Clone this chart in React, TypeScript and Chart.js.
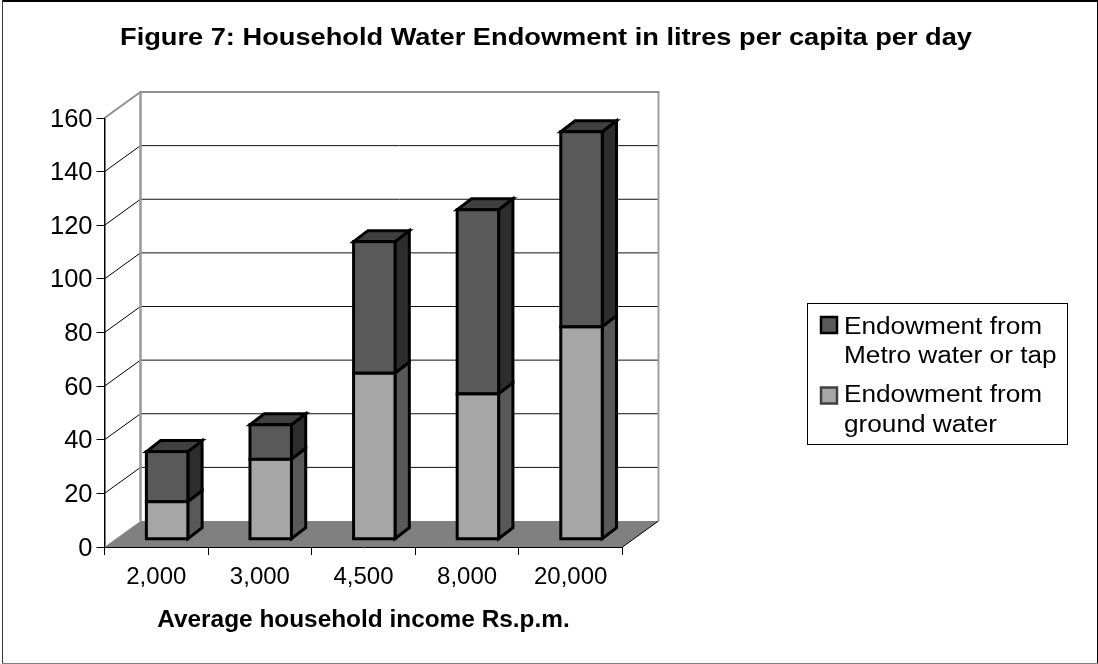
import React, { useEffect, useRef } from "react";
import { Chart, registerables } from "chart.js";

Chart.register(...registerables);

const categories = ["2,000", "3,000", "4,500", "8,000", "20,000"];
const groundWater = [14, 29.8, 61.9, 54.2, 79.2];
const metroWater = [18.7, 12.9, 49.1, 68.7, 72.8];
const yTicks = [0, 20, 40, 60, 80, 100, 120, 140, 160];
const metroLabel = ["Endowment from", "Metro water or tap"];
const groundLabel = ["Endowment from", "ground water"];
const titleText = "Figure 7: Household Water Endowment in litres per capita per day";
const xTitleText = "Average household income Rs.p.m.";

const FONT = '"Liberation Sans", Arial, sans-serif';
const FLOOR = "#808080";
const WALL = "#8f8f8f";
const DEPTH_X = 36;
const DEPTH_Y = 26;
const BAR_SHIFT_X = 10.8;
const BAR_SHIFT_Y = 7.75;
const SIDE_X = 14.3;
const SIDE_Y = 11;
const BAR_LINE = 3;
const LEGEND_STRETCH = 1.115;

const faces = [
  { front: "#a6a6a6", side: "#595959", top: "#6a6a6a" },
  { front: "#595959", side: "#2d2d2d", top: "#404040" },
];

function poly(ctx: CanvasRenderingContext2D, pts: number[][], fill: string | null, stroke: string | null, lw = 1) {
  ctx.beginPath();
  pts.forEach((p, i) => (i ? ctx.lineTo(p[0], p[1]) : ctx.moveTo(p[0], p[1])));
  ctx.closePath();
  if (fill) {
    ctx.fillStyle = fill;
    ctx.fill();
  }
  if (stroke) {
    ctx.strokeStyle = stroke;
    ctx.lineWidth = lw;
    ctx.lineJoin = "miter";
    ctx.stroke();
  }
}

function line(ctx: CanvasRenderingContext2D, x1: number, y1: number, x2: number, y2: number, color: string, lw: number) {
  ctx.beginPath();
  ctx.moveTo(x1, y1);
  ctx.lineTo(x2, y2);
  ctx.strokeStyle = color;
  ctx.lineWidth = lw;
  ctx.stroke();
}

function stretchedText(ctx: CanvasRenderingContext2D, text: string, x: number, y: number, sx: number) {
  ctx.save();
  ctx.translate(x, y);
  ctx.scale(sx, 1);
  ctx.textAlign = "left";
  ctx.textBaseline = "alphabetic";
  ctx.fillText(text, 0, 0);
  ctx.restore();
}

const chrome = {
  id: "chrome",
  beforeDraw(chart: any) {
    const { ctx, width, height } = chart;
    const items = chart.scales.y.getLabelItems();
    if (!items._shifted) {
      items.forEach((it: any) => {
        it.options.translation[1] += 1.5;
      });
      items._shifted = true;
    }
    ctx.save();
    ctx.fillStyle = "#ffffff";
    ctx.fillRect(0, 0, width, height);
    line(ctx, 2, 1, width, 1, "#000000", 2);
    line(ctx, 2.5, 0, 2.5, height, "#3a3a3a", 1);
    line(ctx, width - 0.5, 0, width - 0.5, height, "#000000", 1);
    line(ctx, 2, height - 0.5, width, height - 0.5, "#808080", 1);
    ctx.fillStyle = "#000000";
    ctx.font = `bold 24px ${FONT}`;
    const sx = 852 / ctx.measureText(titleText).width;
    stretchedText(ctx, titleText, 120, 45, sx);
    ctx.restore();
  },
  beforeDatasetsDraw(chart: any) {
    const { ctx, chartArea: a, scales } = chart;
    const y = scales.y;
    ctx.save();
    const bx = a.left + DEPTH_X;
    const tx = a.right + DEPTH_X;
    const ty = a.top - DEPTH_Y;
    const by = a.bottom - DEPTH_Y;
    poly(ctx, [[a.left, a.bottom], [a.right, a.bottom], [tx, by], [bx, by]], FLOOR, null);
    yTicks.forEach((t) => {
      if (t === 0 || t === 160) return;
      const py = y.getPixelForValue(t);
      line(ctx, a.left, py, bx, py - DEPTH_Y, "#000000", 1);
      line(ctx, bx, py - DEPTH_Y, tx, py - DEPTH_Y, "#111111", 1);
    });
    line(ctx, bx, ty, bx, by, "#999999", 2.5);
    line(ctx, tx, ty, tx, by, "#a0a0a0", 2);
    line(ctx, bx - 1, ty, tx + 1, ty, WALL, 2);
    line(ctx, a.left, a.top, bx, ty, WALL, 2);
    line(ctx, a.right, a.bottom, tx, by, "#000000", 1);
    ctx.restore();
  },
  beforeDatasetDraw(chart: any, args: any) {
    const { ctx } = chart;
    const meta = chart.getDatasetMeta(args.index);
    const colors = faces[args.index];
    ctx.save();
    ctx.translate(BAR_SHIFT_X, -BAR_SHIFT_Y);
    meta.data.forEach((bar: any) => {
      const r = bar.getProps(["x", "y", "base", "width"], true);
      const right = r.x + r.width / 2;
      const left = r.x - r.width / 2;
      poly(ctx, [[right, r.y], [right + SIDE_X, r.y - SIDE_Y], [right + SIDE_X, r.base - SIDE_Y], [right, r.base]], colors.side, "#000000", BAR_LINE);
      if (args.index === 1) {
        poly(ctx, [[left, r.y], [left + SIDE_X, r.y - SIDE_Y], [right + SIDE_X, r.y - SIDE_Y], [right, r.y]], colors.top, "#000000", BAR_LINE);
      }
    });
  },
  afterDatasetDraw(chart: any, args: any) {
    const { ctx } = chart;
    chart.getDatasetMeta(args.index).data.forEach((bar: any) => {
      const r = bar.getProps(["x", "y", "base", "width"], true);
      ctx.strokeStyle = "#000000";
      ctx.lineWidth = BAR_LINE;
      ctx.strokeRect(r.x - r.width / 2, r.y, r.width, r.base - r.y);
    });
    ctx.restore();
  },
  afterDraw(chart: any) {
    const { ctx } = chart;
    ctx.save();
    ctx.fillStyle = "#ffffff";
    ctx.fillRect(807.5, 303.5, 260, 141);
    ctx.strokeStyle = "#000000";
    ctx.lineWidth = 1;
    ctx.strokeRect(807.5, 303.5, 260, 141);
    const entries = [
      { lines: metroLabel, box: 317, base: [333.5, 362.5], fill: faces[1].front, border: "#000000" },
      { lines: groundLabel, box: 387.5, base: [401.5, 431.5], fill: faces[0].front, border: "#404040" },
    ];
    entries.forEach((e) => {
      ctx.fillStyle = e.fill;
      ctx.strokeStyle = e.border;
      ctx.lineWidth = 2.5;
      ctx.fillRect(821, e.box, 16, 16);
      ctx.strokeRect(821, e.box, 16, 16);
      ctx.fillStyle = "#000000";
      ctx.font = `23.5px ${FONT}`;
      stretchedText(ctx, e.lines[0], 844, e.base[0], LEGEND_STRETCH);
      stretchedText(ctx, e.lines[1], 844, e.base[1], LEGEND_STRETCH);
    });
    ctx.restore();
  },
};

export default function App() {
  const ref = useRef<HTMLCanvasElement>(null);
  useEffect(() => {
    const chart = new Chart(ref.current as HTMLCanvasElement, {
      type: "bar",
      data: {
        labels: categories,
        datasets: [
          { label: "Endowment from ground water", data: groundWater, backgroundColor: faces[0].front, borderWidth: 0, inflateAmount: 0, stack: "s" },
          { label: "Endowment from Metro water or tap", data: metroWater, backgroundColor: faces[1].front, borderWidth: 0, inflateAmount: 0, stack: "s" },
        ],
      },
      plugins: [chrome],
      options: {
        animation: false,
        responsive: false,
        devicePixelRatio: 1,
        layout: { padding: { left: 0, right: 475.5, top: 118, bottom: 0 } },
        datasets: { bar: { barPercentage: 0.4, categoryPercentage: 1 } },
        plugins: {
          legend: { display: false },
          tooltip: { enabled: false },
          title: { display: false },
        },
        scales: {
          x: {
            stacked: true,
            afterFit: (s: any) => {
              s.height = 117;
            },
            grid: { drawOnChartArea: false, drawTicks: true, tickLength: 8, tickColor: "#000000", color: "#000000" },
            border: { display: true, color: "#000000", width: 1 },
            ticks: { color: "#000000", font: { family: FONT, size: 24 }, padding: 8, maxRotation: 0 },
            title: { display: true, text: xTitleText, color: "#000000", font: { family: FONT, size: 24.4, weight: "bold" }, padding: { top: 4, bottom: 29 } },
          },
          y: {
            stacked: true,
            min: 0,
            max: 160,
            afterFit: (s: any) => {
              s.width = 104.5;
            },
            grid: { drawOnChartArea: false, drawTicks: true, tickLength: 8, tickColor: "#000000", color: "#000000" },
            border: { display: true, color: "#000000", width: 1.5 },
            ticks: { stepSize: 20, color: "#000000", font: { family: FONT, size: 25.5 }, padding: 4 },
          },
        },
      },
    } as any);
    return () => chart.destroy();
  }, []);
  return (
    <canvas
      ref={ref}
      width={1098}
      height={664}
      style={{ position: "absolute", left: 0, top: 0, width: 1098, height: 664, display: "block" }}
    />
  );
}
